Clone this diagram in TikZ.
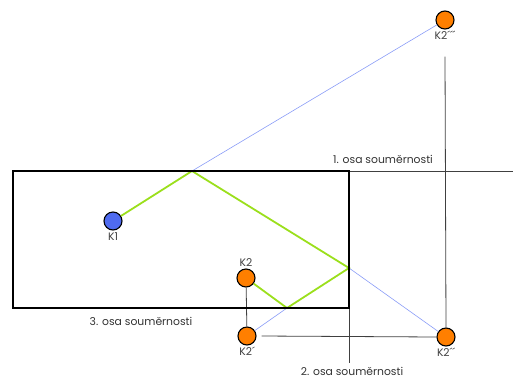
\documentclass[tikz,border=0pt]{standalone}
\usepackage{fontspec}
\setmainfont{Poppins}
\usepackage{xcolor}
\usetikzlibrary{positioning}
\definecolor{ballorange}{HTML}{FF7F00}
\definecolor{ballblue}{HTML}{4F6BEF}
\definecolor{pathgreen}{HTML}{9BDF1C}
\definecolor{mirrorblue}{HTML}{8A9CF7}

\begin{document}
\begin{tikzpicture}[x=1pt, y=-1pt, font=\fontsize{10.8}{12}\selectfont,
  ball/.style={circle, draw=black, line width=1.1pt, minimum size=18pt, inner sep=0pt},
  kbl/.style={ball, fill=ballorange, label={[text=black!75, inner sep=1.5pt]#1}},
  axisline/.style={black!75, line width=0.8pt},
  mirror/.style={mirrorblue, line width=0.6pt},
  shot/.style={pathgreen, line width=1.8pt},
  axlab/.style={text=black!80}]
\useasboundingbox (0,0) rectangle (513,378);
% ---- table ----
\coordinate (tl) at (13,171);
\coordinate (tr) at (349,171);
\coordinate (bl) at (13,308);
\coordinate (br) at (349,308);
% bounce points
\coordinate (b1) at (192,171);
\coordinate (b2) at (349,268);
\coordinate (b3) at (287,308);
% ---- axes of symmetry ----
\coordinate (ax1) at (513,171);
\coordinate (ax2) at (349,363);
\draw[axisline] (tr) -- (ax1);
\draw[axisline] (br) -- (ax2);
\node[axlab] (lab1) at (383,159) {1. osa souměrnosti};
\node[axlab] (lab2) at (352,371) {2. osa souměrnosti};
\node[axlab] (lab3) at (141,321) {3. osa souměrnosti};
% ---- balls ----
\node[ball, fill=ballblue, label={[text=black!75, inner sep=1.5pt]below:K1}] (k1) at (113,221) {};
\node[kbl=above:K2] (k2) at (246,278) {};
\node[kbl=below:K2´] (k2a) at (247,336) {};
\node[kbl=below:K2´´] (k2b) at (446,337) {};
\node[kbl=below:K2´´´] (k2c) at (445,20) {};
% ---- mirror construction ----
\draw[axisline] (k2) -- (k2a);
\draw[axisline] (k2a.east) ++(5,0) -- (k2b.west);
\draw[axisline] (k2c.south) ++(0,27) -- (k2b.north);
\draw[mirror] (b1) -- (k2c);
\draw[mirror] (b2) -- (k2b);
\draw[mirror] (b3) -- (k2a);
% ---- ball path ----
\draw[shot] (k1) -- (b1) -- (b2) -- (b3) -- (k2);
\draw[line width=1.8pt] (tl) rectangle (br);
\end{tikzpicture}
\end{document}
